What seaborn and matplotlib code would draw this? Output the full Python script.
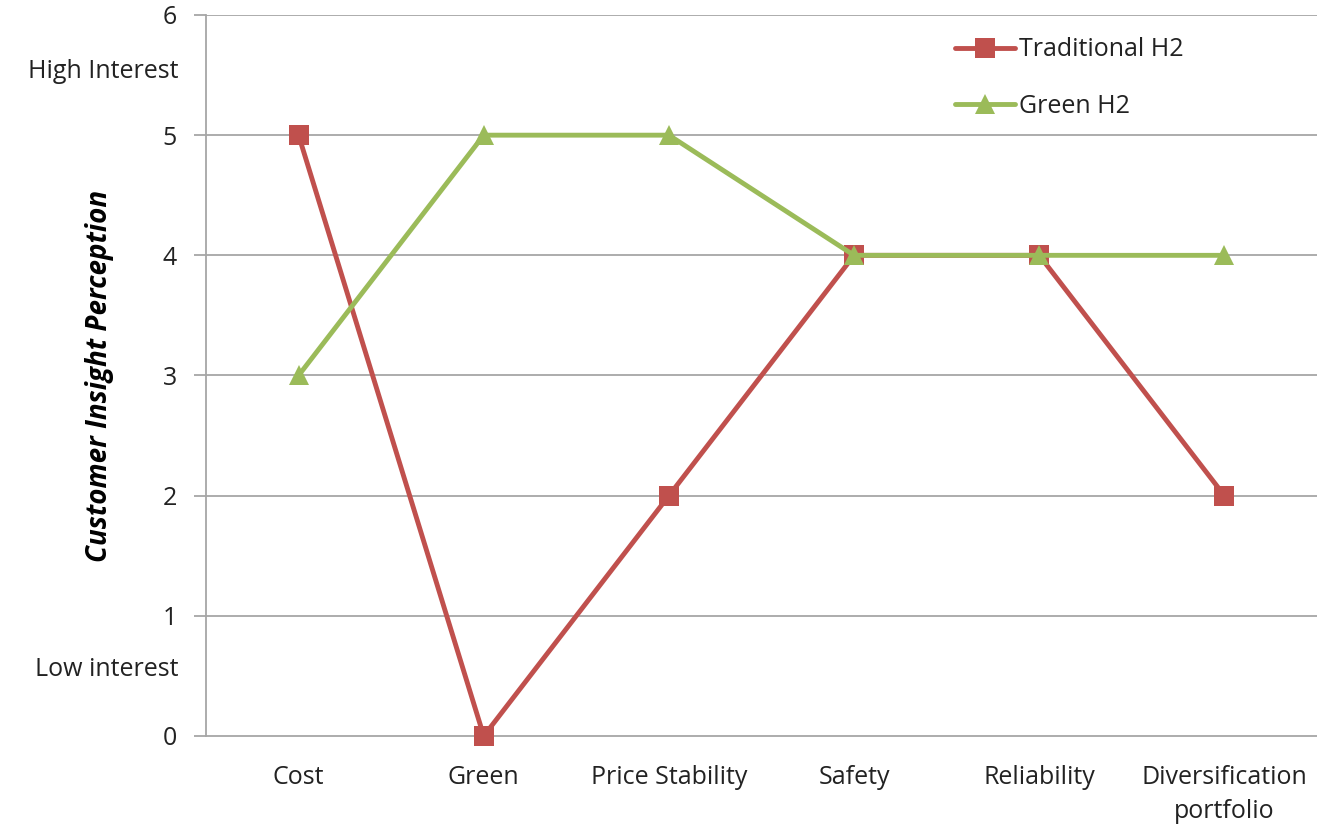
import matplotlib.pyplot as plt
import seaborn as sns
import pandas as pd
import numpy as np

categories = ['Cost', 'Green', 'Price Stability', 'Safety', 'Reliability', 'Diversification\nportfolio']
traditional_h2 = [5, 0, 2, 4, 4, 2]
green_h2 = [3, 5, 5, 4, 4, 4]
series_names = ['Traditional H2', 'Green H2']

df = pd.DataFrame({
    'pos': list(range(len(categories))) * 2,
    'value': traditional_h2 + green_h2,
    'series': [series_names[0]] * len(categories) + [series_names[1]] * len(categories),
})

sns.set_theme(style='white')
plt.rcParams['font.family'] = ['Open Sans', 'DejaVu Sans']

fig = plt.figure(figsize=(13.17, 8.24), dpi=100)
ax = fig.add_axes([0.1564, 0.1068, 0.8436, 0.875])

red = '#C0504D'
green = '#9BBB59'
grid_c = '#A6A6A6'
text_c = '#222222'
fs = 18

sns.lineplot(data=df, x='pos', y='value', hue='series', style='series',
             palette={series_names[0]: red, series_names[1]: green},
             markers={series_names[0]: 's', series_names[1]: '^'},
             dashes=False, sort=False, linewidth=3.5, markersize=14,
             markeredgewidth=0, ax=ax, clip_on=False, zorder=3)

ax.set_xlim(-0.5, len(categories) - 0.5)
ax.set_ylim(0, 6)
ax.set_yticks(range(7))
ax.set_yticklabels([str(i) for i in range(7)], fontsize=fs, color=text_c)
for y in range(1, 7):
    ax.axhline(y, color=grid_c, linewidth=1.3, zorder=1)

# category labels at centers, tick marks at boundaries
ax.set_xticks(np.arange(len(categories)))
ax.set_xticklabels(categories, fontsize=fs, color=text_c, linespacing=1.45)
ax.tick_params(axis='x', length=0, pad=21)
ax.set_xticks(np.arange(len(categories) + 1) - 0.5, minor=True)
ax.tick_params(axis='x', which='minor', length=9, width=1.3, color=grid_c)
ax.tick_params(axis='y', length=9, width=1.3, color=grid_c, left=True, pad=12)

for side in ['top', 'right']:
    ax.spines[side].set_visible(False)
for side in ['left', 'bottom']:
    ax.spines[side].set_color(grid_c)
    ax.spines[side].set_linewidth(1.3)

ax.set_xlabel('')
ax.set_ylabel('Customer Insight Perception', fontsize=20, fontweight='bold',
              fontstyle='italic', color='black', labelpad=0)
ax.yaxis.set_label_coords(-0.083, 0.5)

ax.text(-0.025, 5.53, 'High Interest', transform=ax.get_yaxis_transform(),
        ha='right', va='center', fontsize=fs, color=text_c)
ax.text(-0.025, 0.55, 'Low interest', transform=ax.get_yaxis_transform(),
        ha='right', va='center', fontsize=fs, color=text_c)

leg = ax.legend(loc='upper left', bbox_to_anchor=(0.665, 0.983), frameon=False,
                fontsize=fs, handlelength=2.4, handletextpad=0.15,
                labelspacing=1.25, borderaxespad=0)
for t in leg.get_texts():
    t.set_color(text_c)

fig.savefig('out.png', dpi=100)
